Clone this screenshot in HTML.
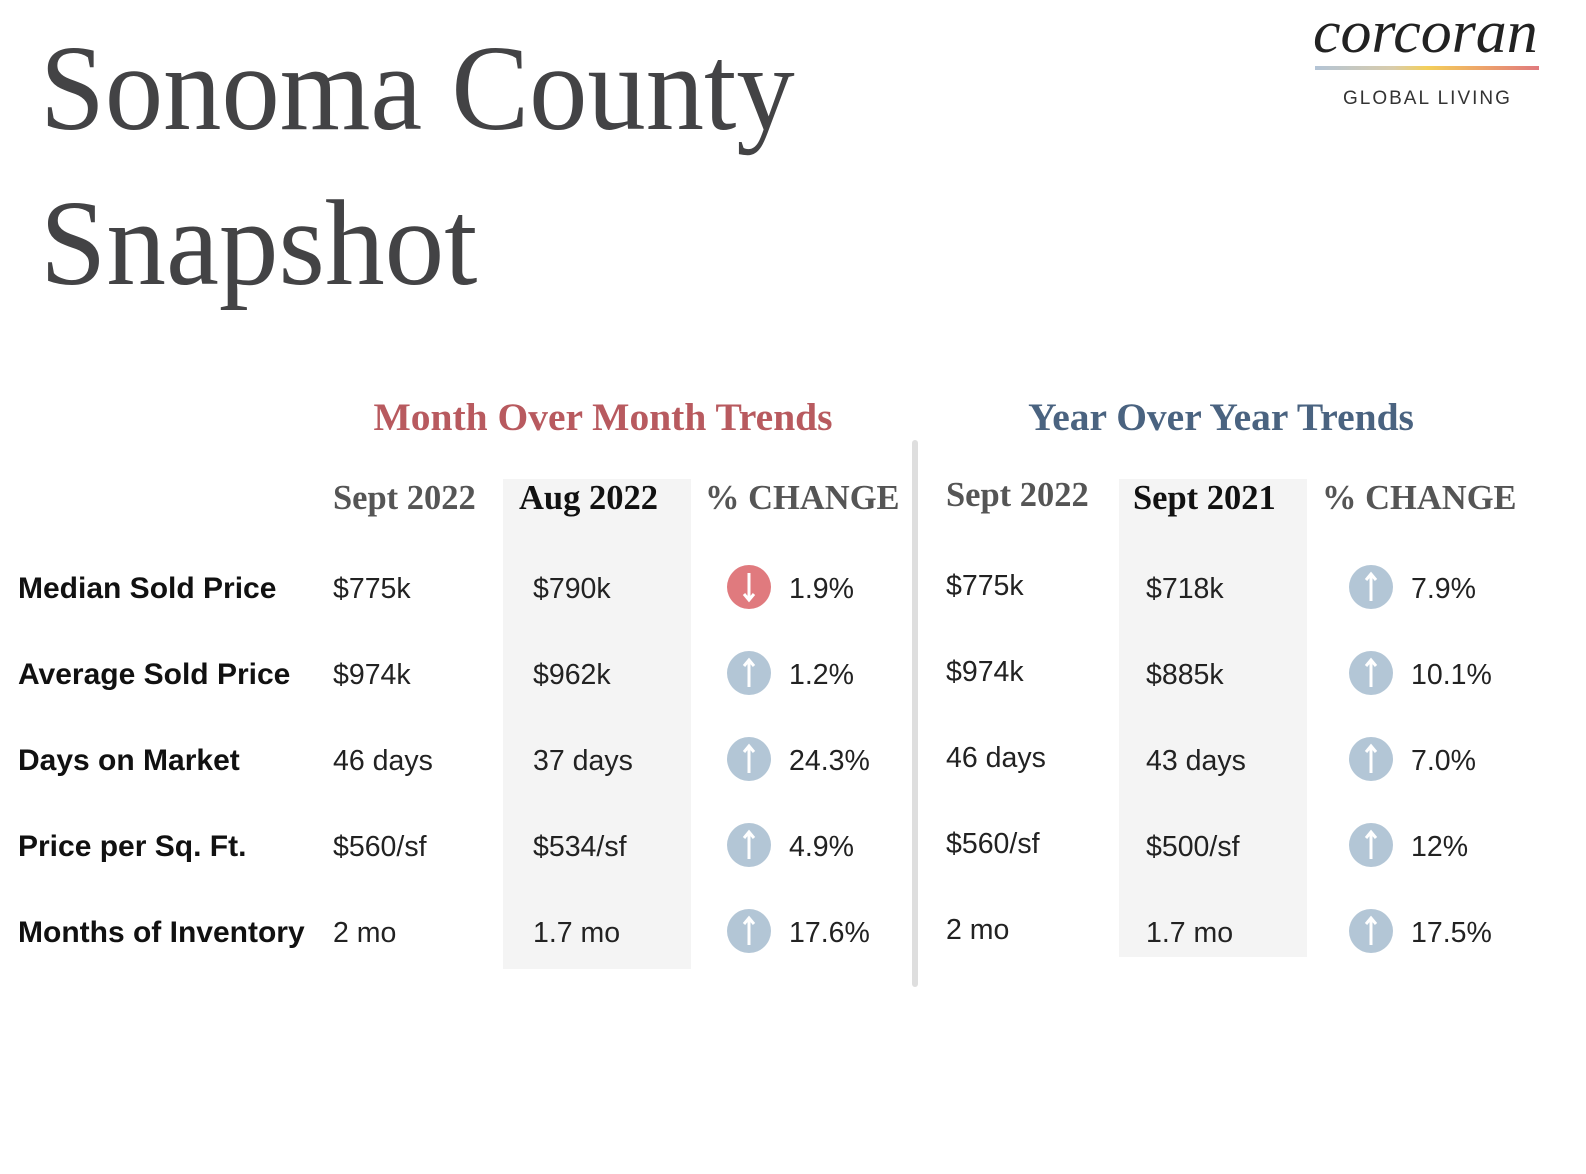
<!DOCTYPE html>
<html><head><meta charset="utf-8">
<style>
body{margin:0;width:1586px;height:1174px;background:#fff;position:relative;overflow:hidden;font-family:"Liberation Sans",sans-serif;}
.abs{position:absolute;white-space:nowrap;}
.title{font-family:"Liberation Serif",serif;font-size:122px;color:#434345;line-height:1;transform-origin:0 0;}
.sec{font-family:"Liberation Serif",serif;font-size:39.5px;font-weight:bold;transform:translateX(-50%);}
.hdr{font-family:"Liberation Serif",serif;font-size:34.5px;font-weight:bold;color:#555;line-height:1;}
.lbl{font-size:30px;font-weight:bold;color:#111;line-height:1;}
.val{font-size:28.5px;color:#222;line-height:1;}
.band{position:absolute;background:#f4f4f4;}
.icon{position:absolute;width:44px;height:44px;border-radius:50%;}
</style></head><body>
<div class="abs title" id="t1" style="left:40px;top:28px;">Sonoma County</div>
<div class="abs title" id="t2" style="left:40px;top:183px;">Snapshot</div>

<div>
<div class="abs" id="logoword" style="left:1313px;top:-2px;font-family:'Liberation Serif',serif;font-style:italic;font-size:60px;color:#222;transform-origin:0 0;">corcoran</div>
<div class="abs" style="left:1315px;top:66px;width:224px;height:4px;background:linear-gradient(90deg,#b3c4d6,#d9ccaa 35%,#f3cf5a 50%,#eda36a 75%,#e07a7e);"></div>
<div class="abs" style="left:1343px;top:88px;font-size:19px;letter-spacing:2px;color:#333;">GLOBAL LIVING</div>
</div>

<div class="abs sec" style="left:603px;top:394px;color:#b85a5f;">Month Over Month Trends</div>
<div class="abs sec" style="left:1221px;top:394px;color:#4a6380;">Year Over Year Trends</div>

<div class="band" style="left:503px;top:479px;width:188px;height:490px;"></div>
<div class="band" style="left:1119px;top:479px;width:188px;height:478px;"></div>
<div class="abs" style="left:912px;top:440px;width:6px;height:547px;background:#dedede;border-radius:3px;"></div>

<div id="table"></div>

<script>
const metrics=["Median Sold Price","Average Sold Price","Days on Market","Price per Sq. Ft.","Months of Inventory"];
const momHeaders=["Sept 2022","Aug 2022","% CHANGE"];
const yoyHeaders=["Sept 2022","Sept 2021","% CHANGE"];
const momCurrent=["$775k","$974k","46 days","$560/sf","2 mo"];
const momPrior=["$790k","$962k","37 days","$534/sf","1.7 mo"];
const momChange=["1.9%","1.2%","24.3%","4.9%","17.6%"];
const momDir=["down","up","up","up","up"];
const yoyCurrent=["$775k","$974k","46 days","$560/sf","2 mo"];
const yoyPrior=["$718k","$885k","43 days","$500/sf","1.7 mo"];
const yoyChange=["7.9%","10.1%","7.0%","12%","17.5%"];
const yoyDir=["up","up","up","up","up"];

[["t1",755],["t2",437],["logoword",225]].forEach(([id,w])=>{const e=document.getElementById(id);e.style.transform='scaleX('+(w/e.offsetWidth)+')';});

const T=document.getElementById('table');
function txt(cls,s,x,y,name,color){const d=document.createElement('div');d.className='abs '+cls;d.textContent=s;d.style.left=x+'px';d.style.top=y+'px';if(color)d.style.color=color;


T.appendChild(d);return d;}
function icon(dir,cx,cy,name){const d=document.createElement('div');d.className='icon';d.style.left=(cx-22)+'px';d.style.top=(cy-22)+'px';d.style.background=dir==='down'?'#e07a7e':'#b3c6d6';


const a=dir==='down'?'<path d="M22 8V34M17 29L22 35L27 29" stroke="#fff" stroke-width="3" fill="none"/>':'<path d="M22 36V10M17 15L22 9L27 15" stroke="#fff" stroke-width="3" fill="none"/>';
d.innerHTML='<svg width="44" height="44">'+a+'</svg>';T.appendChild(d);}
const rowY=r=>590+r*86;
const hx=[333,519,705], hx2=[946,1133,1322];
momHeaders.forEach((h,i)=>txt('hdr',h,hx[i],481,'mom-header-'+i,i===1?'#111':'#555'));
yoyHeaders.forEach((h,i)=>txt('hdr',h,hx2[i],i===0?478:481,'yoy-header-'+i,i===1?'#111':'#555'));
metrics.forEach((m,r)=>{const y=rowY(r)-15;
 txt('lbl',m,18,y-1,'metric-label-'+r);
 txt('val',momCurrent[r],333,y,'mom-current-'+r);
 txt('val',momPrior[r],533,y,'mom-prior-'+r);
 icon(momDir[r],749,rowY(r)-3,'mom-arrow-'+r);
 txt('val',momChange[r],789,y,'mom-change-'+r);
 txt('val',yoyCurrent[r],946,y-3,'yoy-current-'+r);
 txt('val',yoyPrior[r],1146,y,'yoy-prior-'+r);
 icon(yoyDir[r],1371,rowY(r)-3,'yoy-arrow-'+r);
 txt('val',yoyChange[r],1411,y,'yoy-change-'+r);
});
</script>
</body></html>
